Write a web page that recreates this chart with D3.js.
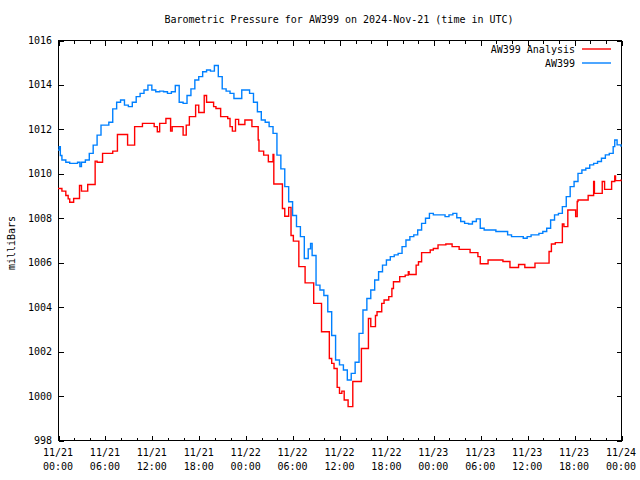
<!DOCTYPE html>
<html>
<head>
<meta charset="utf-8">
<script src="https://cdn.jsdelivr.net/npm/d3@7"></script>
<style>
  html, body { margin: 0; padding: 0; background: #fff; }
  svg { display: block; }
  text { font-family: "DejaVu Sans Mono", "Liberation Mono", monospace; font-size: 10px; fill: #000; }
</style>
</head>
<body>
<svg id="chart" width="640" height="480"></svg>
<script>
// ---------------- data (hours since 2024-11-21 00:00 UTC, millibars) ----------------
const titleText = "Barometric Pressure for AW399 on 2024-Nov-21 (time in UTC)";
const yLabel = "milliBars";
const seriesNames = ["AW399 Analysis", "AW399"];
const yTicks = [998, 1000, 1002, 1004, 1006, 1008, 1010, 1012, 1014, 1016];
const xLabelHours = [0, 6, 12, 18, 24, 30, 36, 42, 48, 54, 60, 66, 72];
const xMinorHours = [2, 4, 8, 10, 14, 16, 20, 22, 26, 28, 32, 34, 38, 40, 44, 46, 50, 52, 56, 58, 62, 64, 68, 70];

const analysisHours = [0,0.5,1.0,1.3,1.5,2.0,2.75,3.0,3.8,4.75,5.0,5.7,7.0,7.6,8.9,9.8,10.8,12.3,12.7,13.0,13.8,14.4,14.6,16.0,16.4,16.8,17.6,18.0,18.7,19.0,19.9,20.2,20.8,21.7,22.0,22.3,22.7,23.1,23.9,24.8,25.6,25.7,26.3,26.9,27.5,27.6,28.7,29.0,29.5,29.8,30.1,30.8,31.6,32.7,33.7,34.7,35.0,35.3,35.7,36.0,36.3,36.6,37.1,37.7,38.8,39.7,40.0,40.6,40.8,41.4,41.7,42.3,42.7,42.9,43.7,44.4,44.8,44.9,45.8,46.1,46.5,47.6,48.0,48.6,49.6,50.4,51.3,52.7,53.7,54.0,55.0,56.9,57.8,58.9,59.7,61.0,62.8,63.1,63.6,64.5,64.7,65.2,66.2,66.4,66.5,67.8,68.5,68.6,69.6,69.9,70.8,71.2,71.3,72];
const analysisValues = [1009.32,1009.2,1009.0,1008.85,1008.7,1008.87,1009.45,1009.2,1009.5,1010.55,1010.5,1010.9,1011.0,1011.75,1011.27,1012.1,1012.25,1012.1,1011.87,1012.25,1012.47,1011.9,1012.1,1011.72,1012.17,1012.55,1013.07,1012.74,1013.5,1013.2,1013.0,1012.92,1012.55,1012.47,1012.1,1011.9,1012.43,1012.2,1012.4,1012.1,1011.5,1011.0,1010.82,1010.52,1010.85,1009.52,1008.42,1008.07,1008.47,1007.2,1006.95,1005.8,1005.07,1004.15,1002.87,1001.67,1001.45,1001.22,1000.37,1000.1,1000.2,999.8,999.5,1000.63,1002.12,1003.47,1003.1,1003.6,1003.77,1004.15,1004.3,1004.45,1004.82,1005.12,1005.35,1005.42,1005.57,1005.45,1005.87,1006.02,1006.43,1006.55,1006.62,1006.78,1006.82,1006.7,1006.58,1006.43,1006.25,1005.93,1006.1,1006.03,1005.76,1005.9,1005.76,1005.96,1006.48,1006.82,1006.88,1007.72,1007.6,1008.35,1008.05,1008.73,1008.8,1009.0,1009.63,1009.1,1009.63,1009.28,1009.63,1009.88,1009.67,1009.72];

const stationHours = [0,0.15,0.3,0.5,1,1.5,2,2.5,2.8,3,3.5,4,4.5,5,5.5,6,6.5,7,7.5,8,8.5,9,9.5,10,10.5,11,11.5,12,12.5,13,13.5,14,14.5,15,15.5,16,16.5,17,17.5,18,18.5,19,19.5,20,20.5,21,21.5,22,22.5,23,23.5,24,24.5,25,25.5,26,26.5,27,27.5,28,28.5,29,29.5,30,30.5,31,31.5,32,32.3,32.5,33,33.5,34,34.5,35,35.5,36,36.5,37,37.5,38,38.5,39,39.5,40,40.5,41,41.5,42,42.5,43,43.5,44,44.5,45,45.5,46,46.5,47,47.5,48,48.5,49,49.5,50,50.5,51,51.5,52,52.5,53,53.5,54,54.5,55,55.5,56,56.5,57,57.5,58,58.5,59,59.5,60,60.5,61,61.5,62,62.5,63,63.5,64,64.5,65,65.5,66,66.5,67,67.5,68,68.5,69,69.5,70,70.5,71,71.2,71.5,72];
const stationValues = [1011.05,1011.2,1010.8,1010.6,1010.5,1010.45,1010.45,1010.5,1010.3,1010.5,1010.6,1010.9,1011.27,1011.72,1012.17,1012.17,1012.3,1012.9,1013.2,1013.3,1013.07,1013.0,1013.2,1013.45,1013.6,1013.75,1013.97,1013.75,1013.67,1013.7,1013.67,1013.6,1013.67,1013.95,1013.2,1013.15,1013.5,1013.8,1014.2,1014.35,1014.57,1014.65,1014.6,1014.85,1014.35,1013.8,1013.7,1013.6,1013.37,1013.37,1013.75,1013.75,1013.6,1013.2,1012.77,1012.4,1012.3,1012.1,1011.8,1010.82,1010.2,1009.4,1008.72,1008.1,1007.6,1007.15,1006.17,1006.6,1006.85,1006.3,1004.97,1004.75,1004.5,1003.77,1002.7,1001.6,1001.38,1001.15,1000.7,1001.0,1001.5,1002.8,1003.85,1004.37,1004.75,1005.2,1005.57,1005.87,1006.1,1006.25,1006.33,1006.4,1006.7,1007.0,1007.15,1007.23,1007.45,1007.75,1007.98,1008.2,1008.13,1008.13,1008.13,1008.05,1008.13,1008.2,1008.0,1007.83,1007.75,1007.72,1007.83,1007.95,1007.53,1007.45,1007.45,1007.45,1007.38,1007.38,1007.38,1007.23,1007.15,1007.15,1007.15,1007.08,1007.15,1007.23,1007.23,1007.3,1007.38,1007.53,1007.9,1008.13,1008.2,1008.5,1008.95,1009.4,1009.63,1010.0,1010.15,1010.23,1010.38,1010.45,1010.53,1010.68,1010.83,1010.9,1011.2,1011.5,1011.28,1011.2];

const seriesColors = ["#ff0000", "#0080ff"];

// ---------------- layout ----------------
const svg = d3.select("#chart");
const L = 58, T = 40, R = 621, B = 440;
const t0 = Date.UTC(2024, 10, 21, 0, 0);
const hourDate = h => new Date(t0 + h * 3600 * 1000);

const x = d3.scaleUtc().domain([hourDate(0), hourDate(72)]).range([L, R]);
const y = d3.scaleLinear().domain([998, 1016]).range([B, T]);

const fmtDay = d3.utcFormat("%m/%d");
const fmtTime = d3.utcFormat("%H:%M");

// frame
svg.append("rect")
  .attr("x", L + 0.5).attr("y", T + 0.5)
  .attr("width", R - L).attr("height", B - T)
  .attr("fill", "none").attr("stroke", "#000").attr("stroke-width", 1)
  .attr("shape-rendering", "crispEdges");

const xMajor = xLabelHours.map(hourDate);
const xMinor = xMinorHours.map(hourDate);

function tickAxis(gen, transform) {
  const g = svg.append("g").attr("transform", transform).call(gen);
  g.select(".domain").remove();
  g.selectAll("line").attr("stroke", "#000").attr("shape-rendering", "crispEdges");
  return g;
}
tickAxis(d3.axisBottom(x).tickValues(xMajor).tickSize(-5).tickFormat(""), `translate(0.5,${B + 0.5})`);
tickAxis(d3.axisBottom(x).tickValues(xMinor).tickSize(-3).tickFormat(""), `translate(0.5,${B + 0.5})`);
tickAxis(d3.axisTop(x).tickValues(xMajor).tickSize(-5).tickFormat(""), `translate(0.5,${T + 0.5})`);
tickAxis(d3.axisTop(x).tickValues(xMinor).tickSize(-3).tickFormat(""), `translate(0.5,${T + 0.5})`);
tickAxis(d3.axisLeft(y).tickValues(yTicks).tickSize(-5).tickFormat(""), `translate(${L + 0.5},0.5)`);
tickAxis(d3.axisRight(y).tickValues(yTicks).tickSize(-5).tickFormat(""), `translate(${R + 0.5},0.5)`);

// x tick labels (two lines)
const xl = svg.append("g");
xMajor.forEach(d => {
  const t = xl.append("text").attr("x", x(d)).attr("text-anchor", "middle");
  t.append("tspan").attr("x", x(d)).attr("y", 456).text(fmtDay(d));
  t.append("tspan").attr("x", x(d)).attr("y", 470).text(fmtTime(d));
});
// y tick labels
svg.append("g").selectAll("text").data(yTicks).join("text")
  .attr("x", 52).attr("y", d => y(d) + 4)
  .attr("text-anchor", "end").text(d => d);

// title
svg.append("text").attr("x", 339).attr("y", 23).attr("text-anchor", "middle").text(titleText);
// y label
svg.append("text").attr("transform", "translate(15,243) rotate(-90)").attr("text-anchor", "middle").text(yLabel);

// series
const lineGen = d3.line().curve(d3.curveStepAfter).x(d => x(d[0])).y(d => y(d[1]));
const analysisData = analysisHours.map((h, i) => [hourDate(h), analysisValues[i]]);
const stationData = stationHours.map((h, i) => [hourDate(h), stationValues[i]]);

svg.append("path").datum(analysisData).attr("d", lineGen)
  .attr("fill", "none").attr("stroke", seriesColors[0]).attr("stroke-width", 1.4);
svg.append("path").datum(stationData).attr("d", lineGen)
  .attr("fill", "none").attr("stroke", seriesColors[1]).attr("stroke-width", 1.4);

// legend
const leg = svg.append("g");
seriesNames.forEach((name, i) => {
  const ly = 49 + i * 14;
  leg.append("text").attr("x", 575).attr("y", ly + 4).attr("text-anchor", "end").text(name);
  leg.append("line").attr("x1", 582).attr("x2", 611).attr("y1", ly).attr("y2", ly)
    .attr("stroke", seriesColors[i]).attr("stroke-width", 1.4);
});
</script>
</body>
</html>
